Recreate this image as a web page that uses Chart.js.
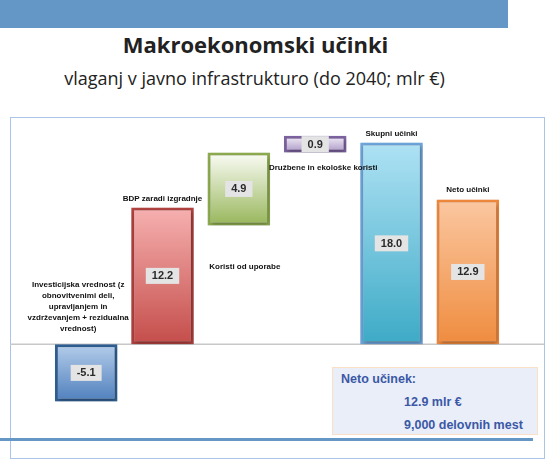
<!DOCTYPE html>
<html>
<head>
<meta charset="utf-8">
<script src="https://cdn.jsdelivr.net/npm/chart.js@4.4.0/dist/chart.umd.min.js"></script>
<style>
  html, body { margin: 0; padding: 0; background: #fff; }
  #stran { position: relative; width: 549px; height: 462px; overflow: hidden; font-family: 'Liberation Sans', Arial, sans-serif; }
  #pas { position: absolute; left: 0; top: 0; width: 508px; height: 28px; background: #6497c6; }
  #naslov { position: absolute; left: 0; width: 511px; top: 29px; text-align: center; font-family: 'Open Sans', sans-serif; font-weight: bold; font-size: 22px; color: #222; }
  #podnaslov { position: absolute; left: 0; width: 509px; top: 66px; text-align: center; font-family: 'Open Sans', sans-serif; font-size: 18px; color: #222; }
  #okvir { position: absolute; left: 10px; top: 117px; width: 533px; height: 340px; border: 1px solid #a9c5e6; }
  #platno { position: absolute; left: 10px; top: 117px; width: 534px; height: 341px; }
  #crta { position: absolute; left: 0; top: 438px; width: 533px; height: 3px; background: #6497c6; }
  #povzetek { position: absolute; left: 332px; top: 367px; width: 204px; height: 66px; background: #e9eef8; border: 1px solid #fbe0c8; color: #3b58a6; font-weight: bold; font-size: 12.5px; }
  #povzetek div { position: absolute; white-space: nowrap; }
</style>
</head>
<body>
<div id="stran">
  <div id="pas"></div>
  <div id="naslov">Makroekonomski učinki</div>
  <div id="podnaslov">vlaganj v javno infrastrukturo (do 2040; mlr €)</div>
  <div id="okvir"></div>
  <div id="platno"><canvas id="graf" width="534" height="341"></canvas></div>
  <div id="crta"></div>
  <div id="povzetek">
    <div style="left:8px; top:4px;">Neto učinek:</div>
    <div style="left:71px; top:27px;">12.9 mlr €</div>
    <div style="left:71px; top:50px;">9,000 delovnih mest</div>
  </div>
</div>
<script>
// podatki
const kategorije = [
    ['Investicijska vrednost (z', 'obnovitvenimi deli,', 'upravljanjem in', 'vzdrževanjem + rezidualna', 'vrednost)'],
    ['BDP zaradi izgradnje'],
    ['Koristi od uporabe'],
    ['Družbene in ekološke koristi'],
    ['Skupni učinki'],
    ['Neto učinki']
];
const zacetek = [0, 0, 10.6, 17.1, 0, 0];
const konec = [-5.1, 12.2, 17.1, 18.6, 18.0, 12.9];
const oznakeVrednosti = ['-5.1', '12.2', '4.9', '0.9', '18.0', '12.9'];

// videz
const barve = [
    { zg: '#b4cdea', sp: '#4f7fbd', rob: '#2f5f93' },
    { zg: '#f6b1b0', sp: '#c44d4a', rob: '#b2423f' },
    { zg: '#fbfcf6', sp: '#97b65a', rob: '#8caa4e' },
    { zg: '#f4f0f8', sp: '#a996c6', rob: '#7d62a0' },
    { zg: '#afe2f4', sp: '#3daac6', rob: '#6ea6dc' },
    { zg: '#fbc7a0', sp: '#ef8c3f', rob: '#ef873a' }
];
const oznakaNa = [1.4, 13.0, 6.9, 15.7, 18.8, 13.75];
const zamikOznake = [-8, 0, 6, 8, 0, 0];

document.addEventListener('DOMContentLoaded', function() {
    function gradient(context) {
        const chart = context.chart;
        const i = context.dataIndex;
        if (!chart.chartArea || !chart.scales.y) return barve[i].sp;
        const y = chart.scales.y;
        const a = y.getPixelForValue(Math.max(zacetek[i], konec[i]));
        const b = y.getPixelForValue(Math.min(zacetek[i], konec[i]));
        const g = chart.ctx.createLinearGradient(0, a, 0, b);
        g.addColorStop(0, barve[i].zg);
        g.addColorStop(1, barve[i].sp);
        return g;
    }

    const senca = {
        id: 'senca',
        beforeDatasetsDraw(chart) {
            const ctx = chart.ctx;
            ctx.save();
            ctx.shadowColor = 'rgba(0,0,0,0.35)';
            ctx.shadowBlur = 4;
            ctx.shadowOffsetX = 1;
            ctx.shadowOffsetY = 2;
        },
        afterDatasetsDraw(chart) {
            chart.ctx.restore();
        }
    };

    const nicelna = {
        id: 'nicelna',
        beforeDatasetsDraw(chart) {
            const ctx = chart.ctx;
            const y0 = chart.scales.y.getPixelForValue(0);
            ctx.save();
            ctx.strokeStyle = '#c8c8c8';
            ctx.lineWidth = 1.5;
            ctx.beginPath();
            ctx.moveTo(0, y0);
            ctx.lineTo(chart.width, y0);
            ctx.stroke();
            ctx.restore();
        }
    };

    const napisi = {
        id: 'napisi',
        afterDraw(chart) {
            const ctx = chart.ctx;
            const meta = chart.getDatasetMeta(0);
            const y = chart.scales.y;
            ctx.save();
            ctx.textAlign = 'center';
            ctx.textBaseline = 'middle';
            meta.data.forEach((bar, i) => {
                // vrednost v sivem okvirju
                const sredina = (y.getPixelForValue(zacetek[i]) + y.getPixelForValue(konec[i])) / 2;
                ctx.font = 'bold 11px "Liberation Sans", Arial, sans-serif';
                const w = ctx.measureText(oznakeVrednosti[i]).width + 12;
                ctx.fillStyle = '#e4e4e4';
                ctx.fillRect(bar.x - w / 2, sredina - 8, w, 16);
                ctx.fillStyle = '#2a2a2a';
                ctx.fillText(oznakeVrednosti[i], bar.x, sredina + 0.5);
                // ime kategorije
                ctx.font = 'bold 8px "Liberation Sans", Arial, sans-serif';
                ctx.fillStyle = '#111';
                const vrstice = kategorije[i];
                const dno = y.getPixelForValue(oznakaNa[i]);
                vrstice.forEach((t, k) => {
                    ctx.fillText(t, bar.x + zamikOznake[i], dno - (vrstice.length - 1 - k) * 11);
                });
            });
            ctx.restore();
        }
    };

    new Chart(document.getElementById('graf').getContext('2d'), {
        type: 'bar',
        data: {
            labels: kategorije.map(k => k.join(' ')),
            datasets: [{
                data: zacetek.map((z, i) => [z, konec[i]]),
                backgroundColor: gradient,
                borderColor: barve.map(b => b.rob),
                borderWidth: 3,
                borderSkipped: false,
                barPercentage: 0.82,
                categoryPercentage: 1
            }]
        },
        options: {
            responsive: false,
            animation: false,
            layout: { padding: { left: 38, right: 38, top: 3, bottom: 24 } },
            scales: {
                x: { display: false },
                y: { display: false, min: -8, max: 20 }
            },
            plugins: { legend: { display: false }, tooltip: { enabled: false } }
        },
        plugins: [nicelna, senca, napisi]
    });
});
</script>
</body>
</html>
